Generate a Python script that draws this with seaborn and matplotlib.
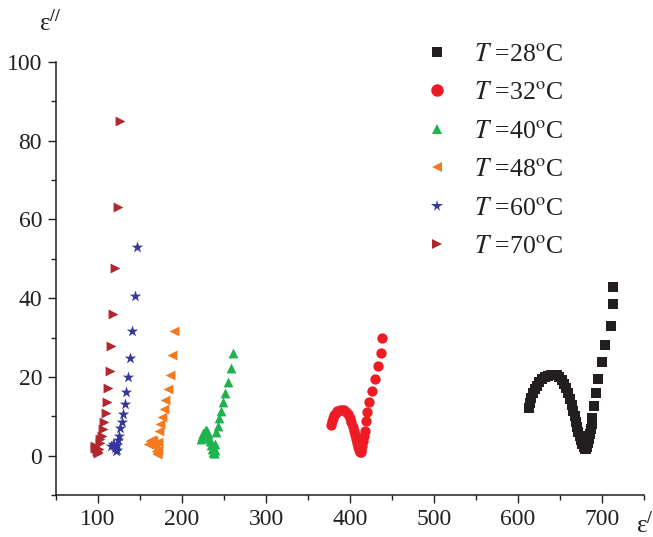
import matplotlib
matplotlib.use("Agg")
import matplotlib.pyplot as plt
from matplotlib.ticker import MultipleLocator
from matplotlib.lines import Line2D
import seaborn as sns
import pandas as pd

# ---- data ----
x28 = [613, 614, 615.5, 617.5, 620, 622.5, 625.5, 628.5, 632, 635.5, 639, 642.5, 646, 649, 652, 655,
       657.5, 660, 662, 664, 666, 667.5, 669, 670.5, 672, 673.5, 675, 676.5, 678, 679.5, 681, 682.5,
       683.5, 684.5, 685.5, 686.5, 687.5, 688.5, 690, 693, 695.5, 699.5, 704, 711, 713.5, 713]
y28 = [12, 13.3, 14.6, 15.8, 16.9, 17.8, 18.7, 19.4, 19.9, 20.3, 20.5, 20.6, 20.4, 20, 19.3, 18.3,
       17.1, 15.8, 14.4, 12.9, 11.4, 10, 8.6, 7.3, 6, 4.9, 3.9, 3, 2.3, 1.8, 1.6, 2.2,
       3.2, 4.3, 5.5, 6.8, 8.1, 9.5, 12.7, 16, 19.5, 23.8, 28, 33, 38.5, 42.8]

x32 = [377, 378, 379.5, 381, 383, 385, 387.5, 390, 392.5, 395, 397.5, 399.5, 401.5, 403, 404.5, 406,
       407.5, 408.5, 409.5, 410.5, 411.5, 412.5, 413.5, 414.5, 415.5, 416.5, 417.5, 419, 420.6, 423,
       425.7, 429.3, 433.7, 437, 438]
y32 = [7.8, 8.7, 9.5, 10.2, 10.8, 11.3, 11.6, 11.7, 11.6, 11.2, 10.5, 9.6, 8.5, 7.4, 6.3, 5.2,
       4.1, 3.2, 2.3, 1.5, 1.0, 0.9, 1.4, 2.4, 3.6, 4.9, 6.3, 8.9, 11.2, 13.5,
       16.3, 19.5, 22.7, 26.1, 30]

x40 = [223, 224, 225.5, 227, 228.5, 230, 231.5, 232.5, 233.5, 234.5, 235.5, 236.5, 237.5, 238.3,
       239, 239.6, 240.5, 242.4, 244.4, 246.4, 248.8, 251.5, 254.3, 257.9, 260.2]
y40 = [4.2, 5.0, 5.7, 6.2, 6.4, 6.2, 5.5, 4.6, 3.6, 2.6, 1.7, 1.0, 0.6, 0.6,
       1.5, 3.0, 5.9, 7.6, 9.5, 11.4, 13.5, 15.9, 18.8, 22.2, 26.1]

x48 = [160, 161.5, 163, 164.5, 166, 167, 168, 169, 170, 170.5, 171, 171.5, 172.2, 174.2, 176.2,
       178.1, 180.1, 182.9, 185.7, 188.1, 190.8]
y48 = [3.0, 3.6, 4.0, 4.0, 3.6, 2.9, 2.1, 1.3, 0.7, 0.5, 1.5, 3.5, 6.3, 8.0, 9.7,
       11.8, 14.1, 16.9, 20.5, 25.5, 31.6]

x60 = [116, 117.5, 119, 120.5, 121.5, 122.5, 123.2, 124, 124.5, 126.5, 128.1, 130.1, 131.7, 133.3,
       135.3, 138.1, 140.5, 143.6, 146.4]
y60 = [2.5, 3.0, 2.8, 2.0, 1.2, 1.5, 2.8, 4.0, 5.0, 6.9, 8.6, 10.7, 13.1, 16.1,
       19.9, 24.9, 31.6, 40.5, 52.9]

x70 = [96, 97, 98, 99, 99.5, 100, 100.8, 101.8, 102.7, 104.8, 106.3, 107.5, 109.1, 110.3, 112.3,
       113.8, 115.5, 118.2, 120.6, 123.4, 126.5]
y70 = [2.0, 2.4, 2.0, 1.3, 0.8, 0.7, 1.8, 3.2, 4.2, 5.0, 6.7, 8.6, 10.8, 13.7, 17.1,
       21.6, 27.8, 36.1, 47.6, 63.1, 84.9]

temps = ["28", "32", "40", "48", "60", "70"]
series_x = [x28, x32, x40, x48, x60, x70]
series_y = [y28, y32, y40, y48, y60, y70]

x_ticks = [100, 200, 300, 400, 500, 600, 700]
y_ticks = [0, 20, 40, 60, 80, 100]

# ---- styling ----
sns.set_theme(style="ticks")
plt.rcParams["font.family"] = ["Liberation Serif", "DejaVu Serif"]
plt.rcParams["mathtext.fontset"] = "stix"

colors = ["#231f20", "#ed1c24", "#1db34e", "#f47a20", "#35379a", "#b0272d"]
markers = ["s", "o", "^", "<", "*", ">"]
sizes = [42, 55, 50, 50, 75, 50]

labels = [r"$T$ =" + t + r"$^{\rm o}$C" for t in temps]

frames = []
for lab, xs, ys in zip(labels, series_x, series_y):
    frames.append(pd.DataFrame({"x": xs, "y": ys, "T": lab}))
df = pd.concat(frames, ignore_index=True)

fig = plt.figure(figsize=(6.53, 5.37), dpi=100)
ax = fig.add_axes([56 / 653, 1 - 495 / 537, (644 - 56) / 653, (495 - 62) / 537])

for lab, c, m, s in zip(labels, colors, markers, sizes):
    sub = df[df["T"] == lab]
    sns.scatterplot(data=sub, x="x", y="y", color=c, marker=m, s=s, linewidth=0,
                    ax=ax, label=lab, legend=False)

ax.set_xlim(50, 750)
ax.set_ylim(-10, 100)
ax.set_xticks(x_ticks)
ax.set_yticks(y_ticks)
ax.xaxis.set_minor_locator(MultipleLocator(50))
ax.yaxis.set_minor_locator(MultipleLocator(10))
ax.set_xlabel("")
ax.set_ylabel("")
sns.despine(ax=ax)
for sp in ["left", "bottom"]:
    ax.spines[sp].set_linewidth(1.1)
    ax.spines[sp].set_color("#231f20")
ax.tick_params(which="major", direction="out", length=6, width=1.0, color="#231f20",
               labelsize=17, labelcolor="#231f20")
ax.tick_params(which="minor", direction="out", length=3.5, width=1.0, color="#231f20")
ax.tick_params(axis="x", which="major", pad=4)
ax.tick_params(axis="y", which="major", pad=4)

# legend
handles = [Line2D([], [], linestyle="none", marker=m, color=c, markersize=ms, markeredgewidth=0)
           for m, c, ms in zip(markers, colors, [7, 9, 6.5, 6.5, 8.5, 6.5])]
ax.legend(handles, labels, loc="upper left", bbox_to_anchor=(424 / 653, 1 - 43 / 537),
          bbox_transform=fig.transFigure, frameon=False, fontsize=18.5, handlelength=1.0,
          handletextpad=0.96, labelspacing=0.6, borderpad=0, borderaxespad=0,
          labelcolor="#231f20")

# axis labels
fig.text(39 / 653, 1 - 31 / 537, r"ε$^{//}$", fontsize=18, color="#231f20", va="baseline")
fig.text(636 / 653, 1 - 533 / 537, r"ε$^{/}$", fontsize=18, color="#231f20", va="baseline")

fig.savefig("out.png", dpi=100)
